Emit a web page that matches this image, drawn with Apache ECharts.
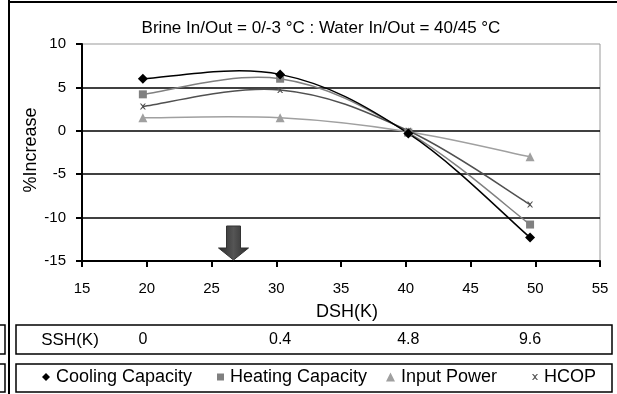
<!DOCTYPE html>
<html>
<head>
<meta charset="utf-8">
<script src="https://cdn.jsdelivr.net/npm/echarts@6/dist/echarts.min.js"></script>
<style>
  html, body { margin: 0; padding: 0; background: #fff; }
  #chart { width: 617px; height: 394px; }
</style>
</head>
<body>
<div id="chart"></div>
<script>
// DSH values of the four test points and the matching SSH row
const dsh = [19.7, 30.3, 40.2, 49.6];
const sshLabels = ["0", "0.4", "4.8", "9.6"];

// % increase per series
const coolingCapacity = [6.0, 6.5, -0.3, -12.3];
const heatingCapacity = [4.2, 6.0, -0.2, -10.8];
const inputPower = [1.5, 1.5, -0.1, -3.0];
const hcop = [2.8, 4.7, 0.0, -8.5];

// arrow marks DSH ~26.7 on the bottom of the plot
const arrowAt = [26.7, -15];

const FONT = "Liberation Sans";
const pair = (ys) => ys.map((y, i) => [dsh[i], y]);
const crossIcon = "path://M0,0 L2,0 L5,3 L8,0 L10,0 L6,5 L10,10 L8,10 L5,7 L2,10 L0,10 L4,5 Z";

const seriesDefs = [
  { name: "Cooling Capacity", data: coolingCapacity, color: "#000000", symbol: "diamond", size: 10, icon: "diamond", iw: 8, left: 42, z: 6 },
  { name: "Heating Capacity", data: heatingCapacity, color: "#808080", symbol: "rect", size: 8, icon: "rect", iw: 7, left: 217, z: 4 },
  { name: "Input Power", data: inputPower, color: "#a0a0a0", symbol: "triangle", size: 9, icon: "triangle", iw: 9, left: 386, z: 3 },
  { name: "HCOP", data: hcop, color: "#505050", symbol: crossIcon, size: 6, icon: crossIcon, iw: 6, left: 532, z: 5 },
];

// spreadsheet-style smoothed curve through the series' own pixel points
const TENSION = 0.18;
function curveItem(s) {
  return function (params, api) {
    if (params.dataIndex !== 0) return null;
    const p = s.data.map((y, i) => api.coord([dsh[i], y]));
    const n = p.length;
    const children = [];
    for (let i = 0; i < n - 1; i++) {
      const a = p[Math.max(i - 1, 0)], b = p[i], c = p[i + 1], d = p[Math.min(i + 2, n - 1)];
      children.push({
        type: "bezierCurve",
        shape: {
          x1: b[0], y1: b[1],
          cpx1: b[0] + (c[0] - a[0]) * TENSION, cpy1: b[1] + (c[1] - a[1]) * TENSION,
          cpx2: c[0] - (d[0] - b[0]) * TENSION, cpy2: c[1] - (d[1] - b[1]) * TENSION,
          x2: c[0], y2: c[1],
        },
        style: { stroke: s.color, lineWidth: 1.5, fill: null },
      });
    }
    return { type: "group", children: children };
  };
}

const chart = echarts.init(document.getElementById("chart"));

const option = {
  animation: false,
  textStyle: { fontFamily: FONT },
  title: {
    text: "Brine In/Out = 0/-3 °C : Water In/Out = 40/45 °C",
    left: 321,
    textAlign: "center",
    top: 20,
    padding: 0,
    textStyle: { fontSize: 17, fontWeight: "normal", color: "#000", fontFamily: FONT },
  },
  legend: seriesDefs.map((s) => ({
    data: [{ name: s.name, icon: s.icon, itemStyle: { color: s.color } }],
    left: s.left,
    top: 368,
    padding: 0,
    itemWidth: s.iw,
    itemHeight: s.iw,
    itemGap: 0,
    selectedMode: false,
    textStyle: { fontSize: 18, color: "#000", fontFamily: FONT, padding: [0, 0, 0, 1] },
  })),
  grid: { left: 82, right: 17, top: 44, bottom: 133, show: true, borderColor: "#999", borderWidth: 1 },
  xAxis: {
    type: "value",
    min: 15,
    max: 55,
    interval: 5,
    axisLine: { onZero: false, lineStyle: { color: "#000", width: 2 } },
    axisTick: { show: true, inside: false, length: 6, lineStyle: { color: "#000", width: 2 } },
    axisLabel: { fontSize: 15, color: "#000", margin: 20 },
    splitLine: { show: false },
  },
  yAxis: {
    type: "value",
    min: -15,
    max: 10,
    interval: 5,
    axisLine: { show: true, onZero: false, lineStyle: { color: "#000", width: 2 } },
    axisTick: { show: true, length: 6, lineStyle: { color: "#000", width: 2 } },
    axisLabel: { fontSize: 15, color: "#000", margin: 16 },
    splitLine: { show: true, showMaxLine: false, lineStyle: { color: "#000", width: 1.5 } },
  },
  series: [
    ...seriesDefs.map((s) => ({
      name: s.name + " curve",
      type: "custom",
      data: pair(s.data),
      renderItem: curveItem(s),
      silent: true,
      clip: true,
      z: s.z,
    })),
    ...seriesDefs.map((s) => ({
      name: s.name,
      type: "line",
      data: pair(s.data),
      symbol: s.symbol,
      symbolSize: s.size,
      showSymbol: true,
      lineStyle: { width: 0, opacity: 0 },
      itemStyle: { color: s.color },
      z: s.z + 2,
    })),
  ],
};

chart.setOption(option);

// frame, axis names, SSH row and arrow placed from the chart's own scales
function drawExtras() {
  const els = [];
  els.push({ type: "line", shape: { x1: 9, y1: 0, x2: 9, y2: 394 }, style: { stroke: "#000", lineWidth: 2 } });
  els.push({ type: "line", shape: { x1: 9, y1: 2, x2: 617, y2: 2 }, style: { stroke: "#000", lineWidth: 2 } });
  els.push({ type: "rect", shape: { x: -10, y: 325, width: 15, height: 29 }, style: { fill: "none", stroke: "#000", lineWidth: 1.5 } });
  els.push({ type: "rect", shape: { x: -10, y: 364, width: 15, height: 28 }, style: { fill: "none", stroke: "#000", lineWidth: 1.5 } });
  els.push({ type: "rect", shape: { x: 16, y: 325, width: 596, height: 29 }, style: { fill: "none", stroke: "#000", lineWidth: 1.5 } });
  els.push({ type: "rect", shape: { x: 16, y: 364, width: 596, height: 28 }, style: { fill: "none", stroke: "#000", lineWidth: 1.5 } });
  els.push({ type: "text", x: 347, y: 312, style: { text: "DSH(K)", font: "18px " + FONT, fill: "#000", textAlign: "center", textVerticalAlign: "middle" } });
  els.push({ type: "text", x: 31, y: 150, rotation: Math.PI / 2, style: { text: "%Increase", font: "18px " + FONT, fill: "#000", textAlign: "center", textVerticalAlign: "middle" } });
  els.push({ type: "text", x: 70, y: 340, style: { text: "SSH(K)", font: "17px " + FONT, fill: "#000", textAlign: "center", textVerticalAlign: "middle" } });
  dsh.forEach((x, i) => {
    const px = chart.convertToPixel({ gridIndex: 0 }, [x, 0])[0];
    els.push({ type: "text", x: px, y: 340, style: { text: sshLabels[i], font: "16px " + FONT, fill: "#000", textAlign: "center", textVerticalAlign: "middle" } });
  });
  const tip = chart.convertToPixel({ gridIndex: 0 }, arrowAt);
  const cx = tip[0], ty = tip[1] - 1;
  els.push({
    type: "polygon",
    shape: { points: [[cx - 7, ty - 34], [cx + 7, ty - 34], [cx + 7, ty - 12], [cx + 15, ty - 12], [cx, ty], [cx - 15, ty - 12], [cx - 7, ty - 12]] },
    style: {
      fill: new echarts.graphic.LinearGradient(0, 0, 1, 0, [
        { offset: 0, color: "#2a2a2a" }, { offset: 0.5, color: "#555" }, { offset: 1, color: "#2a2a2a" },
      ]),
      stroke: "#333", lineWidth: 1,
    },
    z: 10,
  });
  chart.setOption({ graphic: { elements: els } });
}
drawExtras();
</script>
</body>
</html>
